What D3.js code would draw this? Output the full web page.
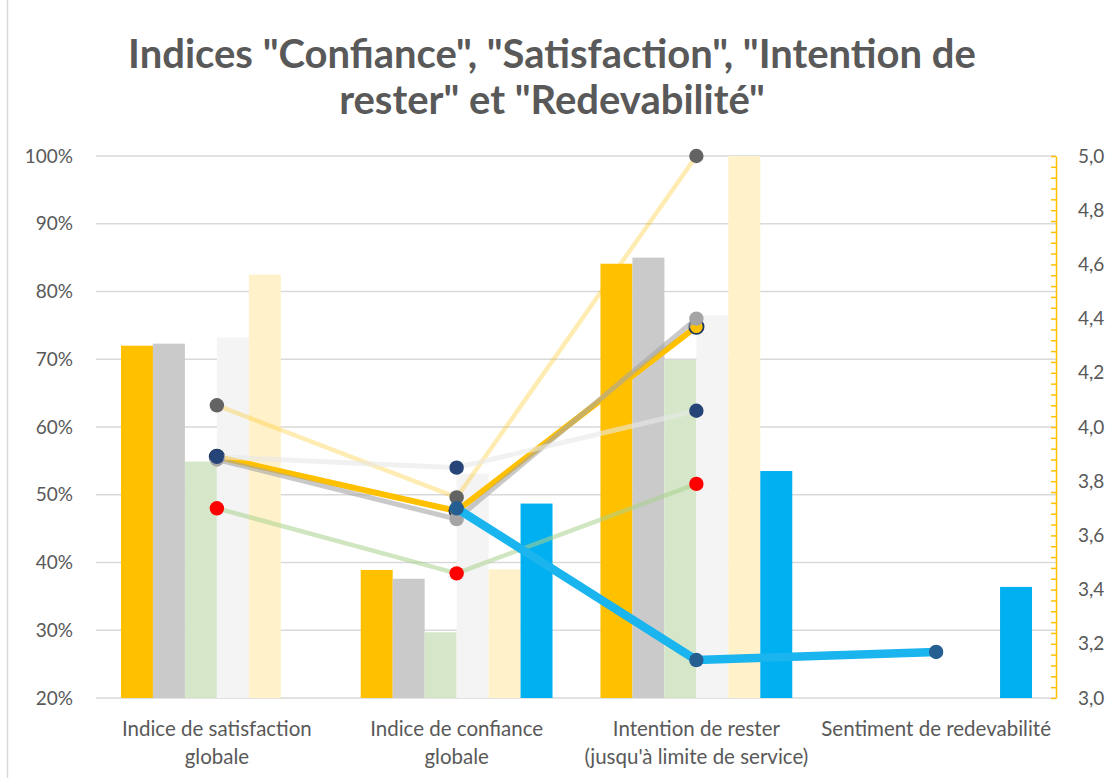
<!DOCTYPE html>
<html>
<head>
<meta charset="utf-8">
<script src="https://cdn.jsdelivr.net/npm/d3@7"></script>
<style>
  body { margin: 0; background: #fff; }
  svg { display: block; }
  text { font-family: Lato, "Open Sans", sans-serif; }
</style>
</head>
<body>
<svg id="chart" width="1114" height="778"></svg>
<script>
// ---- data ----
const categories = [
  "Indice de satisfaction globale",
  "Indice de confiance globale",
  "Intention de rester (jusqu'à limite de service)",
  "Sentiment de redevabilité"
];
const categoryLines = [
  ["Indice de satisfaction", "globale"],
  ["Indice de confiance", "globale"],
  ["Intention de rester", "(jusqu'à limite de service)"],
  ["Sentiment de redevabilité"]
];
const titleLines = ["Indices \"Confiance\", \"Satisfaction\", \"Intention de", "rester\" et \"Redevabilité\""];

// left axis (percent) and right axis (score) tick labels
const pctTicks = [20, 30, 40, 50, 60, 70, 80, 90, 100];
const scoreTicks = [3.0, 3.2, 3.4, 3.6, 3.8, 4.0, 4.2, 4.4, 4.6, 4.8, 5.0];

// bar series, percent
const barOrange = [72.0, 38.9, 84.1, null];
const barGrey   = [72.3, 37.6, 85.0, null];
const barGreen  = [54.9, 29.7, 69.9, null];
const barWhite  = [73.2, 53.1, 76.5, null];
const barCream  = [82.5, 39.0, 100.0, null];
const barBlue   = [null, 48.7, 53.5, 36.4];

// line series, score on the right axis
const lineCream  = [4.08, 3.74, 5.00, null];
const lineOrange = [3.89, 3.69, 4.37, null];
const lineGrey   = [3.88, 3.66, 4.40, null];
const lineWhite  = [3.89, 3.85, 4.06, null];
const lineGreen  = [3.70, 3.46, 3.79, null];
const lineBlue   = [null, 3.70, 3.14, 3.17];

// ---- styling of each series ----
const barSeries = [
  { key: "a", values: barOrange, fill: "#FFC000" },
  { key: "b", values: barGrey,   fill: "#CACACA" },
  { key: "c", values: barGreen,  fill: "#D5E7C8" },
  { key: "d", values: barWhite,  fill: "#F4F4F4" },
  { key: "e", values: barCream,  fill: "#FFF1CA" },
  { key: "f", values: barBlue,   fill: "#00B0F0" }
];
const lineSeries = [
  { values: lineCream,  stroke: "#FFC000", opacity: 0.3,  width: 4.5, marker: "#636363", markerStroke: null },
  { values: lineOrange, stroke: "#FFC000", opacity: 1,    width: 6,   marker: "#FFC000", markerStroke: "#1F3864" },
  { values: lineGrey,   stroke: "#A5A5A5", opacity: 0.6,  width: 5,   marker: "#A5A5A5", markerStroke: null },
  { values: lineWhite,  stroke: "#E8E8E8", opacity: 0.6,  width: 5,   marker: "#264478", markerStroke: null },
  { values: lineGreen,  stroke: "#A9D18E", opacity: 0.55, width: 4.5, marker: "#FF0000", markerStroke: null },
  { values: lineBlue,   stroke: "#1AB4EE", opacity: 1,    width: 8.5, marker: "#255E91", markerStroke: null }
];

// ---- layout ----
const svg = d3.select("#chart");
const plot = { left: 97, right: 1056, top: 156, bottom: 698 };

// chart frame
svg.append("rect")
  .attr("x", 7.5).attr("y", -10).attr("width", 1130).attr("height", 800)
  .attr("fill", "none").attr("stroke", "#D9D9D9").attr("stroke-width", 1.5);

// title
svg.append("text")
  .attr("x", 550).attr("y", 68)
  .attr("text-anchor", "middle")
  .attr("font-size", 40).attr("font-weight", "bold").attr("fill", "#595959")
  .selectAll("tspan").data(titleLines).join("tspan")
  .attr("x", 552).attr("dy", (d, i) => i === 0 ? 0 : 46)
  .text(d => d);

// scales
const x = d3.scaleBand().domain(categories).range([plot.left, plot.right]).padding(0);
const bw = x.bandwidth();
const xInner = d3.scaleBand().domain(barSeries.map(s => s.key)).range([bw * 0.1, bw * 0.9]).padding(0);
const yPct = d3.scaleLinear().domain([20, 100]).range([plot.bottom, plot.top]);
const yScore = d3.scaleLinear().domain([3, 5]).range([plot.bottom, plot.top]);

// gridlines
svg.append("g").selectAll("line").data(pctTicks).join("line")
  .attr("x1", plot.left - 1).attr("x2", plot.right)
  .attr("y1", d => yPct(d)).attr("y2", d => yPct(d))
  .attr("stroke", "#D9D9D9").attr("stroke-width", 1.5);

// left axis labels
const leftAxis = svg.append("g")
  .attr("transform", `translate(${plot.left},0)`)
  .call(d3.axisLeft(yPct).tickValues(pctTicks).tickSize(0).tickPadding(24).tickFormat(d => d + "%"));
leftAxis.select(".domain").remove();
leftAxis.selectAll("text").attr("font-size", 19).attr("fill", "#595959").attr("font-family", "Lato");

// bars
const barG = svg.append("g");
barSeries.forEach(s => {
  barG.append("g").selectAll("rect")
    .data(categories.map((c, i) => ({ c, v: s.values[i] })).filter(d => d.v != null))
    .join("rect")
    .attr("x", d => x(d.c) + xInner(s.key))
    .attr("width", xInner.bandwidth())
    .attr("y", d => yPct(d.v))
    .attr("height", d => yPct(20) - yPct(d.v))
    .attr("fill", s.fill);
});

// lines with markers
const cx = c => x(c) + bw / 2;
const lineGen = d3.line()
  .defined(d => d.v != null)
  .x(d => cx(d.c))
  .y(d => yScore(d.v));
lineSeries.forEach(s => {
  const pts = categories.map((c, i) => ({ c, v: s.values[i] }));
  const g = svg.append("g");
  g.append("path")
    .attr("d", lineGen(pts))
    .attr("fill", "none")
    .attr("stroke", s.stroke)
    .attr("stroke-opacity", s.opacity)
    .attr("stroke-width", s.width)
    .attr("stroke-linejoin", "round")
    .attr("stroke-linecap", "round");
  g.selectAll("circle").data(pts.filter(d => d.v != null)).join("circle")
    .attr("cx", d => cx(d.c))
    .attr("cy", d => yScore(d.v))
    .attr("r", 7.2)
    .attr("fill", s.marker)
    .attr("stroke", s.markerStroke || "none")
    .attr("stroke-width", s.markerStroke ? 1.8 : 0);
});

// right axis: inside tick marks every 0.04, labels every 0.2
const minorTicks = d3.range(0, 51).map(i => 3 + i * 0.04);
const rightTicks = svg.append("g")
  .attr("transform", `translate(${plot.right},0)`)
  .call(d3.axisLeft(yScore).tickValues(minorTicks).tickSize(5).tickSizeOuter(0).tickFormat(""));
rightTicks.select(".domain").attr("stroke", "#FFC000").attr("stroke-width", 1.5);
rightTicks.selectAll(".tick line").attr("stroke", "#FFC000").attr("stroke-width", 1.5);

const rightLabels = svg.append("g")
  .attr("transform", `translate(${plot.right},0)`)
  .call(d3.axisRight(yScore).tickValues(scoreTicks).tickSize(0).tickPadding(22)
    .tickFormat(d => d3.format(".1f")(d).replace(".", ",")));
rightLabels.select(".domain").remove();
rightLabels.selectAll("text").attr("font-size", 19).attr("fill", "#595959").attr("font-family", "Lato");

// category labels
const xl = svg.append("g");
categories.forEach((c, i) => {
  xl.append("text")
    .attr("x", cx(c)).attr("y", 736)
    .attr("text-anchor", "middle")
    .attr("font-size", 20.5).attr("fill", "#595959")
    .selectAll("tspan").data(categoryLines[i]).join("tspan")
    .attr("x", cx(c)).attr("dy", (d, j) => j === 0 ? 0 : 28)
    .text(d => d);
});
</script>
</body>
</html>
